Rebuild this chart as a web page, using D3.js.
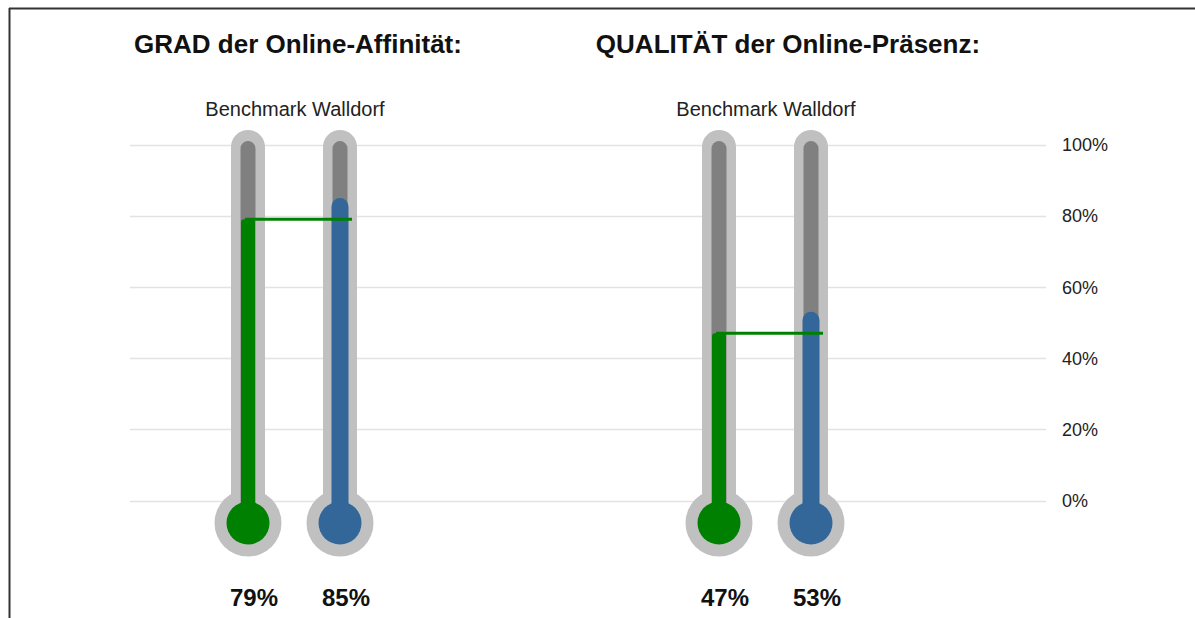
<!DOCTYPE html>
<html>
<head>
<meta charset="utf-8">
<script src="https://cdn.jsdelivr.net/npm/d3@7"></script>
<style>
  html, body { margin: 0; padding: 0; background: #fff; }
  svg { display: block; }
</style>
</head>
<body>
<svg id="chart" width="1195" height="618"></svg>
<script>
// Panels (one thermometer pair per metric)
const categories = ["GRAD der Online-Affinität:", "QUALITÄT der Online-Präsenz:"];
// Series inside each panel
const series = ["Benchmark", "Walldorf"];
const seriesLabel = ["Benchmark Walldorf", "Benchmark Walldorf"];
// Percent values per panel
const benchmarkValues = [79, 47];
const walldorfValues = [85, 53];
// Axis ticks
const tickValues = [0, 20, 40, 60, 80, 100];

const colors = { Benchmark: "#008000", Walldorf: "#336699" };
const tubeOuter = "#c0c0c0", tubeInner = "#808080", gridColor = "#e3e3e3";

const svg = d3.select("#chart");
const W = 1195, H = 618;

// frame
svg.append("line").attr("x1", 9).attr("x2", W).attr("y1", 8.5).attr("y2", 8.5)
  .attr("stroke", "#333").attr("stroke-width", 2);
svg.append("line").attr("x1", 9.5).attr("x2", 9.5).attr("y1", 8).attr("y2", H)
  .attr("stroke", "#333").attr("stroke-width", 2);

const y = d3.scaleLinear().domain([0, 100]).range([500.5, 144.5]);
const panelX = d3.scalePoint().domain(categories).range([294, 765]);
const seriesX = d3.scalePoint().domain(series).range([-46, 46]);

// gridlines + right axis
const axis = d3.axisRight(y).tickValues(tickValues).tickFormat(d => d + "%")
  .tickSize(0).tickPadding(0);
const gAxis = svg.append("g").attr("transform", "translate(1062,0)").call(axis);
gAxis.select(".domain").remove();
gAxis.selectAll("text").attr("font-family", "Liberation Sans, Arial, sans-serif")
  .attr("font-size", 18).attr("fill", "#222").attr("x", 0).attr("dy", "0.34em");
svg.append("g").selectAll("line").data(tickValues).join("line")
  .attr("x1", 130).attr("x2", 1046)
  .attr("y1", d => Math.round(y(d)) + 0.5).attr("y2", d => Math.round(y(d)) + 0.5)
  .attr("stroke", gridColor).attr("stroke-width", 1.5);

const bulbY = 523;
const titleDx = [4, 23];

// rounded-top column from yTop down to yBottom
function column(cx, w, yTop, yBottom, r) {
  const x0 = cx - w / 2, x1 = cx + w / 2;
  r = Math.min(r, w / 2);
  return `M${x0},${yBottom} L${x0},${yTop + r} A${r},${r} 0 0 1 ${x0 + r},${yTop}` +
    ` L${x1 - r},${yTop} A${r},${r} 0 0 1 ${x1},${yTop + r} L${x1},${yBottom} Z`;
}

categories.forEach((cat, i) => {
  const px = panelX(cat);
  const vals = { Benchmark: benchmarkValues[i], Walldorf: walldorfValues[i] };
  const g = svg.append("g");

  g.append("text").attr("x", px + titleDx[i]).attr("y", 53)
    .attr("text-anchor", "middle").attr("font-family", "Liberation Sans, Arial, sans-serif")
    .attr("font-weight", "bold").attr("font-size", 26).attr("fill", "#111").text(cat);

  g.append("text").attr("x", px + 1).attr("y", 116)
    .attr("text-anchor", "middle").attr("font-family", "Liberation Sans, Arial, sans-serif")
    .attr("font-size", 20).attr("fill", "#222").text(seriesLabel[i]);

  series.forEach(s => {
    const cx = px + seriesX(s);
    // glass
    g.append("path").attr("d", column(cx, 34, 130, bulbY, 17)).attr("fill", tubeOuter);
    g.append("circle").attr("cx", cx).attr("cy", bulbY).attr("r", 33.5).attr("fill", tubeOuter);
    g.append("path").attr("d", column(cx, 15, 141, bulbY, 7.5)).attr("fill", tubeInner);
    // mercury
    const w = s === "Benchmark" ? 14 : 17;
    const r = s === "Benchmark" ? 3 : 8.5;
    g.append("path").attr("d", column(cx, w, y(vals[s]), bulbY, r)).attr("fill", colors[s]);
    g.append("circle").attr("cx", cx).attr("cy", bulbY).attr("r", 21.5).attr("fill", colors[s]);
    // value label
    g.append("text").attr("x", cx + 6).attr("y", 606)
      .attr("text-anchor", "middle").attr("font-family", "Liberation Sans, Arial, sans-serif")
      .attr("font-weight", "bold").attr("font-size", 24).attr("fill", "#111")
      .text(vals[s] + "%");
  });

  // benchmark marker line
  const bx = px + seriesX("Benchmark"), wx = px + seriesX("Walldorf");
  g.append("line").attr("x1", bx - 3).attr("x2", wx + 12)
    .attr("y1", y(vals.Benchmark)).attr("y2", y(vals.Benchmark))
    .attr("stroke", colors.Benchmark).attr("stroke-width", 3);
});
</script>
</body>
</html>
